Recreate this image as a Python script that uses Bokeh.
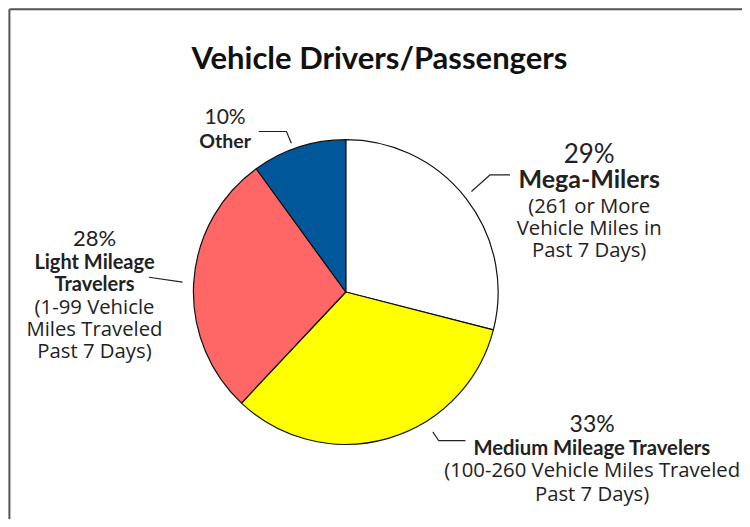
import numpy as np
from bokeh.plotting import figure
from bokeh.models import Range1d
from bokeh.core.properties import value
from bokeh.embed import file_html
from bokeh.resources import INLINE

# ---- data ----
categories = ["Mega-Milers", "Medium Mileage Travelers", "Light Mileage Travelers", "Other"]
shares = [29, 33, 28, 10]
colors = ["#FFFFFF", "#FFFF00", "#FF6666", "#00589B"]
pct_labels = ["29%", "33%", "28%", "10%"]
bold_labels = [["Mega-Milers"], ["Medium Mileage Travelers"], ["Light Mileage", "Travelers"], ["Other"]]
sub_labels = [["(261 or More", "Vehicle Miles in", "Past 7 Days)"],
              ["(100-260 Vehicle Miles Traveled", "Past 7 Days)"],
              ["(1-99 Vehicle", "Miles Traveled", "Past 7 Days)"],
              []]
title_text = "Vehicle Drivers/Passengers"

# ---- layout (reference pixel coordinates; y measured downward) ----
W, H = 742, 519          # figure size
RW, RH = 750, 527        # reference coordinate space
cx, cy, r = 349, 296, 154
label_x = [595, 598, 95, 227]
pct_y = [155, 429, 241, 117]
pct_size = ["26px", "23px", "22px", "21px"]
bold_y = [[180], [453], [265, 287], [142]]
bold_size = ["25px", "20.3px", "20px", "19.5px"]
sub_y = [[208, 230, 252], [476, 500], [310, 333, 355], []]
leaders = [
    ([515, 495, 476], [177, 177, 194]),
    ([437, 443, 470], [438, 447, 447]),
    ([150, 184], [281, 286]),
    ([261, 289, 294], [133, 133, 145]),
]

FONT = "Lato"
SUBFONT = "Open Sans"

p = figure(width=W, height=H, output_backend="svg", toolbar_location=None,
           x_range=Range1d(0, RW), y_range=Range1d(-RH, 0),
           min_border=0, outline_line_color=None)
p.axis.visible = False
p.grid.visible = False
p.background_fill_color = "white"
p.border_fill_color = "white"

# frame (left and top edges visible)
p.line([9, 9], [-RH, -9], line_color="#555555", line_width=2)
p.line([9, RW], [-9, -9], line_color="#555555", line_width=2)

# pie
cum = np.cumsum([0] + shares)
starts = [np.radians(90 - cum[i] * 3.6) for i in range(len(shares))]
ends = [np.radians(90 - cum[i + 1] * 3.6) for i in range(len(shares))]
p.wedge(x=cx, y=-cy, radius=r, start_angle=starts, end_angle=ends, direction="clock",
        fill_color=colors, line_color="#111111", line_width=1.2)

# leaders
for xs, ys in leaders:
    p.line(xs, [-v for v in ys], line_color="#222222", line_width=1.2)

# title
p.text(x=[383], y=[-57], text=[title_text], text_align="center", text_baseline="alphabetic",
       text_font=value(FONT), text_font_style="bold", text_font_size="31px", text_color="#111111")

# labels
for i in range(len(categories)):
    p.text(x=[label_x[i]], y=[-pct_y[i]], text=[pct_labels[i]], text_align="center",
           text_baseline="alphabetic", text_font=value(FONT), text_font_size=pct_size[i],
           text_color="#222222")
    for t, yy in zip(bold_labels[i], bold_y[i]):
        p.text(x=[label_x[i]], y=[-yy], text=[t], text_align="center", text_baseline="alphabetic",
               text_font=value(FONT), text_font_style="bold", text_font_size=bold_size[i],
               text_color="#222222")
    for t, yy in zip(sub_labels[i], sub_y[i]):
        p.text(x=[label_x[i]], y=[-yy], text=[t], text_align="center", text_baseline="alphabetic",
               text_font=value(SUBFONT), text_font_size="20.3px", text_color="#222222")

open("out.html", "w").write(file_html(p, INLINE))
